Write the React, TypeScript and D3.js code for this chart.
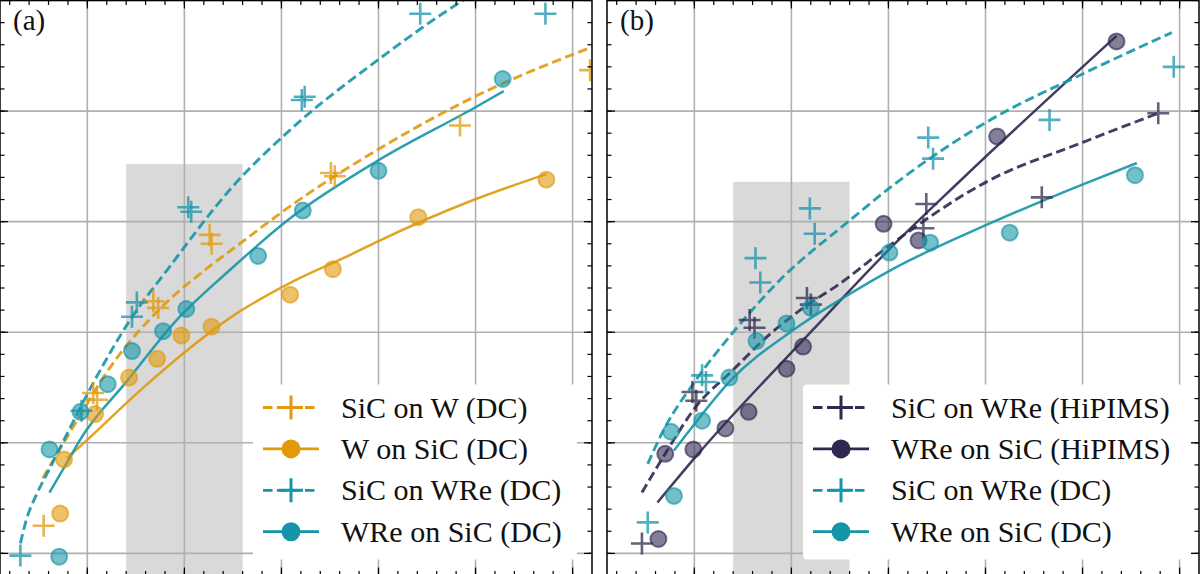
import * as d3 from 'd3';

type Pt = [number, number];

// axis ranges shared by both panels
const X_DOMAIN: Pt = [0.1, 6.2];
const Y_DOMAIN: Pt = [0.8, 6.0];
const MAJOR_TICKS = [1, 2, 3, 4, 5, 6];
const MINOR_X = d3.range(0.2, 6.2, 0.2);
const MINOR_Y = d3.range(0.8, 6.0, 0.2);
const SHADE_X: Pt = [1.4, 2.6];

// (a) DC sputtered W and WRe
const aSicOnW: Pt[] = [[0.55, 1.25], [1.06, 2.45], [1.1, 2.39], [1.68, 3.28], [1.73, 3.22], [2.26, 3.88], [2.28, 3.8], [3.51, 4.44], [3.55, 4.41], [4.84, 4.87], [6.18, 5.37]];
const aSicOnWFit: Pt[] = [[0.54, 1.68], [0.77, 2.02], [1.29, 2.75], [1.78, 3.24], [2.23, 3.575], [2.57, 3.8], [3.09, 4.14], [3.99, 4.65], [4.99, 5.13], [6.2, 5.58]];
const aWOnSic: Pt[] = [[0.72, 1.36], [0.76, 1.85], [1.08, 2.26], [1.43, 2.59], [1.72, 2.76], [1.97, 2.97], [2.28, 3.05], [3.09, 3.34], [3.53, 3.57], [4.41, 4.04], [5.73, 4.38]];
const aWOnSicFit: Pt[] = [[0.79, 1.86], [0.99, 2.02], [1.54, 2.47], [1.99, 2.81], [2.47, 3.13], [3.12, 3.46], [3.71, 3.7], [3.99, 3.82], [4.99, 4.2], [5.73, 4.43]];
const aSicOnWRe: Pt[] = [[0.31, 0.98], [0.94, 2.29], [1.46, 3.14], [1.51, 3.27], [2.04, 4.13], [2.07, 4.09], [3.21, 5.1], [3.24, 5.13], [4.43, 5.88], [5.72, 5.88]];
const aSicOnWReFit: Pt[] = [[0.31, 1.09], [0.37, 1.3], [0.47, 1.52], [0.62, 1.78], [0.79, 2.08], [1.06, 2.54], [1.44, 3.11], [1.82, 3.56], [2.5, 4.32], [3.09, 4.83], [3.99, 5.46], [4.87, 6.0], [5.72, 6.41]];
const aWReOnSic: Pt[] = [[0.71, 0.97], [0.61, 1.94], [0.93, 2.28], [1.21, 2.53], [1.46, 2.83], [1.78, 3.01], [2.02, 3.21], [2.76, 3.69], [3.22, 4.1], [4.0, 4.46], [5.28, 5.29]];
const aWReOnSicFit: Pt[] = [[0.61, 1.55], [0.79, 1.82], [0.92, 2.02], [1.41, 2.56], [1.92, 3.11], [2.44, 3.54], [3.09, 4.03], [3.99, 4.55], [4.99, 5.03], [5.29, 5.18]];

// (b) HiPIMS vs DC WRe
const bSicOnWReHi: Pt[] = [[0.46, 1.09], [0.98, 2.46], [1.02, 2.38], [1.57, 3.11], [1.62, 3.04], [2.16, 3.31], [2.2, 3.25], [3.39, 4.16], [3.36, 3.94], [4.58, 4.22], [5.78, 4.98]];
const bSicOnWReHiFit: Pt[] = [[0.46, 1.55], [0.72, 1.93], [1.01, 2.32], [1.4, 2.66], [1.75, 2.96], [2.09, 3.2], [2.5, 3.44], [3.02, 3.79], [4.01, 4.36], [5.01, 4.72], [5.78, 4.98]];
const bWReOnSicHi: Pt[] = [[0.63, 1.13], [0.7, 1.9], [0.99, 1.94], [1.32, 2.13], [1.56, 2.28], [1.95, 2.67], [2.12, 2.87], [2.95, 3.98], [3.31, 3.83], [4.12, 4.77], [5.35, 5.63]];
const bWReOnSicHiFit: Pt[] = [[0.62, 1.46], [1.01, 1.87], [2.23, 3.03], [3.02, 3.76], [3.74, 4.37], [5.35, 5.68]];
const bSicOnWReDc: Pt[] = [[0.52, 1.28], [1.08, 2.61], [1.12, 2.55], [1.63, 3.67], [1.68, 3.45], [2.19, 4.12], [2.24, 3.89], [3.41, 4.76], [3.46, 4.57], [4.66, 4.92], [5.94, 5.4]];
const bSicOnWReDcFit: Pt[] = [[0.52, 1.81], [0.68, 2.11], [1.01, 2.56], [1.4, 3.0], [1.88, 3.47], [2.6, 4.01], [3.02, 4.31], [4.01, 4.9], [5.01, 5.34], [5.92, 5.71]];
const bWReOnSicDc: Pt[] = [[0.79, 1.52], [0.76, 2.1], [1.08, 2.2], [1.36, 2.59], [1.64, 2.92], [1.95, 3.08], [2.2, 3.22], [3.01, 3.72], [3.43, 3.81], [4.25, 3.9], [5.54, 4.42]];
const bWReOnSicDcFit: Pt[] = [[0.79, 1.93], [1.01, 2.18], [1.37, 2.56], [2.02, 3.02], [2.57, 3.33], [3.02, 3.56], [4.01, 3.97], [5.01, 4.34], [5.56, 4.53]];

const ORANGE = '#E09A0C';
const TEAL = '#1595A7';
const NAVY = '#2E2950';

const W = 592;
const H = 575;
const FONT = "'Liberation Serif', 'DejaVu Serif', serif";

interface Series {
  name: string;
  color: string;
  marker: 'plus' | 'circle';
  dashed: boolean;
  points: Pt[];
  fit: Pt[];
}

const panelA: Series[] = [
  { name: 'SiC on W (DC)', color: ORANGE, marker: 'plus', dashed: true, points: aSicOnW, fit: aSicOnWFit },
  { name: 'W on SiC (DC)', color: ORANGE, marker: 'circle', dashed: false, points: aWOnSic, fit: aWOnSicFit },
  { name: 'SiC on WRe (DC)', color: TEAL, marker: 'plus', dashed: true, points: aSicOnWRe, fit: aSicOnWReFit },
  { name: 'WRe on SiC (DC)', color: TEAL, marker: 'circle', dashed: false, points: aWReOnSic, fit: aWReOnSicFit },
];

const panelB: Series[] = [
  { name: 'SiC on WRe (HiPIMS)', color: NAVY, marker: 'plus', dashed: true, points: bSicOnWReHi, fit: bSicOnWReHiFit },
  { name: 'WRe on SiC (HiPIMS)', color: NAVY, marker: 'circle', dashed: false, points: bWReOnSicHi, fit: bWReOnSicHiFit },
  { name: 'SiC on WRe (DC)', color: TEAL, marker: 'plus', dashed: true, points: bSicOnWReDc, fit: bSicOnWReDcFit },
  { name: 'WRe on SiC (DC)', color: TEAL, marker: 'circle', dashed: false, points: bWReOnSicDc, fit: bWReOnSicDcFit },
];

const plusPath = (cx: number, cy: number, s: number) =>
  `M${cx - s},${cy}H${cx + s}M${cx},${cy - s}V${cy + s}`;

interface PanelProps {
  id: string;
  left: number;
  label: string;
  series: Series[];
  shadeTop: number;
  legendX: number;
  legendW: number;
}

const Panel = ({ id, left, label, series, shadeTop, legendX, legendW }: PanelProps) => {
  const x = d3.scaleLinear().domain(X_DOMAIN).range([0, W]);
  const y = d3.scaleLinear().domain(Y_DOMAIN).range([H, 0]);
  const line = d3
    .line<Pt>()
    .x(d => x(d[0]))
    .y(d => y(d[1]))
    .curve(d3.curveMonotoneX);

  const legendTop = 384;
  const rowGap = 41.4;

  return (
    <g transform={`translate(${left},0.5)`}>
      <defs>
        <clipPath id={`clip-${id}`}>
          <rect x={0} y={0} width={W} height={H} />
        </clipPath>
      </defs>

      {/* shaded band */}
      <rect
        x={x(SHADE_X[0])}
        y={y(shadeTop)}
        width={x(SHADE_X[1]) - x(SHADE_X[0])}
        height={H - y(shadeTop)}
        fill="#d9d9d9"
      />

      {/* grid */}
      {MAJOR_TICKS.map(t => (
        <line key={`gx${t}`} x1={x(t)} x2={x(t)} y1={0} y2={H} stroke="#b0b0b0" strokeWidth={1.6} />
      ))}
      {MAJOR_TICKS.map(t => (
        <line key={`gy${t}`} x1={0} x2={W} y1={y(t)} y2={y(t)} stroke="#b0b0b0" strokeWidth={1.6} />
      ))}

      <g clipPath={`url(#clip-${id})`}>
        {/* fitted curves */}
        {series.map(s => (
          <path
            key={`fit-${s.name}`}
            d={line(s.fit) ?? ''}
            fill="none"
            stroke={s.color}
            strokeOpacity={0.9}
            strokeWidth={s.dashed ? 2.9 : 2.5}
            strokeDasharray={s.dashed ? '9.5,4.5' : undefined}
          />
        ))}
        {/* measured points */}
        {series.map(s =>
          s.points.map((p, i) =>
            s.marker === 'circle' ? (
              <circle
                key={`${s.name}-${i}`}
                cx={x(p[0])}
                cy={y(p[1])}
                r={8}
                fill={s.color}
                fillOpacity={0.6}
                stroke={s.color}
                strokeOpacity={0.62}
                strokeWidth={2}
              />
            ) : (
              <path
                key={`${s.name}-${i}`}
                d={plusPath(x(p[0]), y(p[1]), 11)}
                stroke={s.color}
                strokeOpacity={0.74}
                strokeWidth={2.6}
                fill="none"
              />
            )
          )
        )}
      </g>

      {/* inward ticks on all four sides */}
      <g stroke="#000" strokeWidth={1.2}>
        {MINOR_X.map(t => (
          <g key={`mx${t}`}>
            <line x1={x(t)} x2={x(t)} y1={0} y2={4.5} />
            <line x1={x(t)} x2={x(t)} y1={H} y2={H - 4.5} />
          </g>
        ))}
        {MAJOR_TICKS.map(t => (
          <g key={`Mx${t}`}>
            <line x1={x(t)} x2={x(t)} y1={0} y2={8} />
            <line x1={x(t)} x2={x(t)} y1={H} y2={H - 8} />
          </g>
        ))}
        {MINOR_Y.map(t => (
          <g key={`my${t}`}>
            <line x1={0} x2={4.5} y1={y(t)} y2={y(t)} />
            <line x1={W} x2={W - 4.5} y1={y(t)} y2={y(t)} />
          </g>
        ))}
        {MAJOR_TICKS.map(t => (
          <g key={`My${t}`}>
            <line x1={0} x2={8} y1={y(t)} y2={y(t)} />
            <line x1={W} x2={W - 8} y1={y(t)} y2={y(t)} />
          </g>
        ))}
      </g>
      <rect x={0} y={0} width={W} height={H} fill="none" stroke="#000" strokeWidth={1.5} />

      {/* legend */}
      <g>
        <rect x={legendX} y={legendTop} width={legendW} height={175} rx={4} fill="#fff" />
        {series.map((s, i) => {
          const cy = legendTop + 23 + i * rowGap;
          const hx = legendX + 10;
          return (
            <g key={`leg-${s.name}`}>
              <line
                x1={hx}
                x2={hx + 56}
                y1={cy}
                y2={cy}
                stroke={s.color}
                strokeWidth={2.8}
                strokeDasharray={s.dashed ? '9.5,4.5' : undefined}
              />
              {s.marker === 'circle' ? (
                <circle cx={hx + 28} cy={cy} r={9.5} fill={s.color} />
              ) : (
                <path d={plusPath(hx + 28, cy, 12)} stroke={s.color} strokeWidth={3} />
              )}
              <text x={hx + 78} y={cy + 10} fontFamily={FONT} fontSize={30} fill="#111">
                {s.name}
              </text>
            </g>
          );
        })}
      </g>

      <text x={13} y={29} fontFamily={FONT} fontSize={29} fill="#111">
        {label}
      </text>
    </g>
  );
};

export default function App() {
  return (
    <svg
      width={1200}
      height={574}
      style={{ position: 'absolute', left: 0, top: 0, background: '#fff' }}
    >
      <rect width={1200} height={574} fill="#fff" />
      <Panel id="a" left={0} label="(a)" series={panelA} shadeTop={4.52} legendX={253} legendW={324} />
      <Panel id="b" left={607} label="(b)" series={panelB} shadeTop={4.36} legendX={196} legendW={388} />
    </svg>
  );
}
